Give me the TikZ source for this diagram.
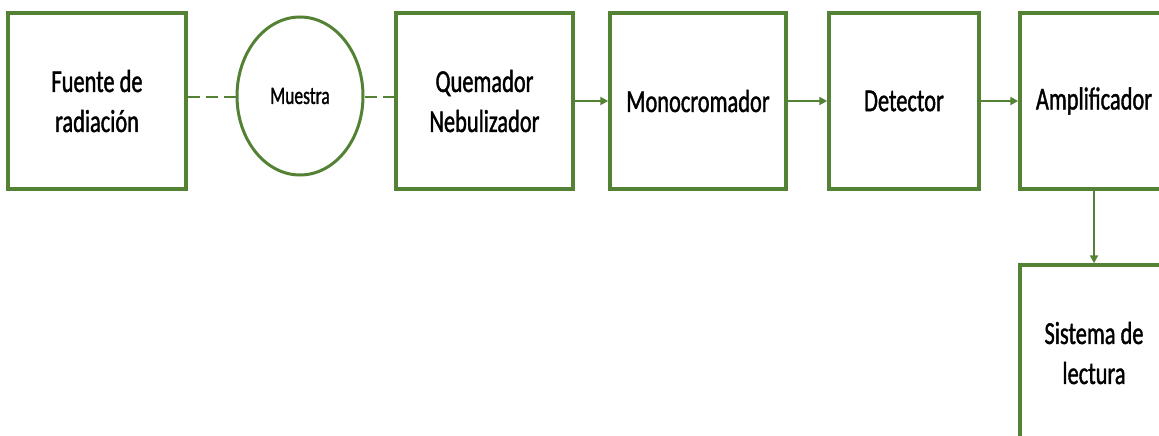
\documentclass[tikz,border=0pt]{standalone}
\usepackage{fontspec}
\setmainfont[FakeStretch=0.7,FakeBold=1.2]{Carlito}
\usetikzlibrary{arrows.meta,shapes.geometric}
\definecolor{verde}{HTML}{548235}
\tikzset{
  bloque/.style={draw=verde,line width=3.5pt,minimum height=176pt,inner sep=0pt,align=center,font=\fontsize{32}{40}\selectfont},
  muestra/.style={ellipse,draw=verde,line width=3pt,minimum width=126pt,minimum height=158pt,inner sep=0pt,font=\fontsize{25}{30}\selectfont},
  flecha/.style={-{Triangle[length=8pt,width=8pt]},verde,line width=2pt},
  guion/.style={verde,line width=2.5pt,dash pattern=on 12pt off 6pt}
}

\begin{document}
\begin{tikzpicture}[x=1pt,y=-1pt]
\useasboundingbox (0,0) rectangle (1159,436);
\clip (0,0) rectangle (1159,436);
% bloques
\node[bloque,minimum width=178pt] (F) at (97,101) {Fuente de\\radiación};
\node[muestra] (Mu) at (300,96) {Muestra};
\node[bloque,minimum width=177pt] (Q) at (484.5,101) {Quemador\\Nebulizador};
\node[bloque,minimum width=176pt] (Mo) at (698,101) {Monocromador};
\node[bloque,minimum width=150pt] (D) at (904,101) {Detector};
\node[bloque,minimum width=148pt] (A) at (1094,101) {Amplificador};
\node[bloque,minimum width=148pt] (S) at (1094,353) {Sistema de\\lectura};
% conexiones
\draw[guion] (F.east |- 0,97) -- (Mu.west |- 0,97);
\draw[guion] (Mu.east |- 0,97) -- (Q.west |- 0,97);
\draw[flecha] (Q) -- (Mo);
\draw[flecha] (Mo) -- (D);
\draw[flecha] (D) -- (A);
\draw[flecha] (A) -- (S);
\end{tikzpicture}
\end{document}
